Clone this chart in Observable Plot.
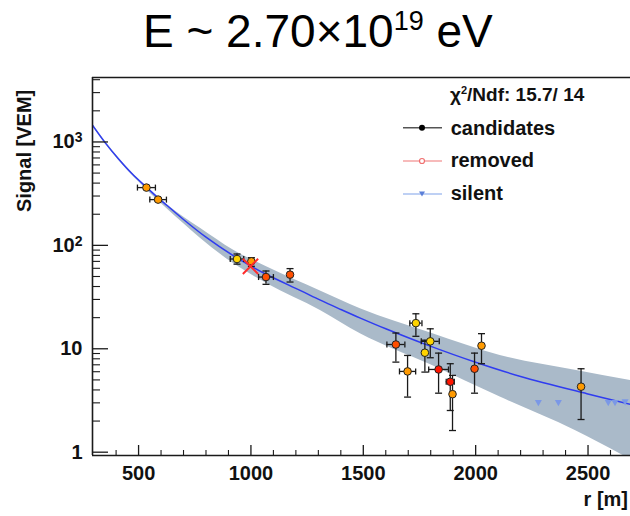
<!DOCTYPE html>
<html>
<head>
<meta charset="utf-8">
<script src="https://cdn.jsdelivr.net/npm/d3@7"></script>
<script src="https://cdn.jsdelivr.net/npm/@observablehq/plot@0.6"></script>
<style>
  html, body { margin: 0; padding: 0; background: white; }
  #wrap { position: relative; width: 630px; height: 516px; background: white; overflow: hidden; }
  #title { position: absolute; left: 143px; top: 8px; font: 46px/46px 'Liberation Sans', Arial, sans-serif; white-space: nowrap; color: #000; }
  #title .sup { font-size: 27px; vertical-align: 17px; line-height: 0; }
  #chart { position: absolute; left: 0; top: 60px; }
</style>
</head>
<body>
<div id="wrap">
  <div id="title">E ~ 2.70×10<span class="sup">19</span> eV</div>
  <div id="chart"></div>
</div>
<script>
// ---- fit curve ----
const fitR = [295, 350, 412, 470, 535, 587, 627, 700, 800, 923, 1000, 1072, 1221, 1309, 1400, 1487, 1600, 1783, 2000, 2200, 2495, 2689];
const fitS = [1450, 990, 680, 495, 365, 288, 243, 178, 120, 79, 63, 52, 36.5, 29.5, 24.0, 19.8, 15.6, 10.9, 7.4, 5.4, 3.68, 2.9];

// ---- uncertainty band ----
const bandR  = [295, 412, 553, 700, 775, 923, 1072, 1309, 1487, 1800, 2109, 2443, 2689];
const bandLo = [1420, 660, 318, 163, 117, 66.6, 42.6, 23.5, 14.0, 7.0, 3.41, 1.62, 0.85];
const bandHi = [1480, 700, 340, 188, 146, 89.5, 61.7, 36.3, 24.4, 14.2, 8.63, 6.2, 4.94];

// ---- candidate stations ----
const candR   = [535, 587, 938, 1002, 1067, 1174, 1645, 1697, 1734, 1774, 1798, 1835, 1887, 1897, 1995, 2026, 2469];
const candS   = [362, 277, 73.8, 70.1, 49.4, 52.1, 11.0, 6.04, 17.7, 9.16, 11.8, 6.31, 4.80, 3.64, 6.41, 10.7, 4.30];
const candLo  = [348, 266, 65.8, 62.7, 42.0, 44.2, 7.43, 3.41, 13.2, 5.95, 8.19, 3.72, 2.53, 1.62, 3.72, 7.17, 2.07];
const candHi  = [377, 288, 82.5, 76.1, 56.5, 59.6, 14.2, 8.62, 21.8, 12.1, 15.6, 9.08, 7.17, 5.53, 9.08, 14.0, 6.41];
const candDR  = [40, 37, 30, 0, 33, 0, 40, 36, 27, 0, 40, 44, 18, 0, 0, 0, 0];
const candCol = ["orange", "orange", "yellow", "orange", "redorange", "redorange", "redorange", "orange", "yellow", "yellow", "yellow", "red", "red", "orange", "redorange", "orange", "orange"];
const palette = {yellow: "#ffd400", orange: "#ff9a00", redorange: "#ff4f00", red: "#ff1500"};

// ---- removed station ----
const removedR = [998];
const removedS = [62.7];

// ---- silent stations ----
const silentR = [2279, 2368, 2590, 2620, 2665];
const silentS = [3.05, 3.05, 3.05, 3.05, 3.1];

// ---- axes ----
const xMajor = [500, 1000, 1500, 2000, 2500];
const xMinor = d3.range(400, 2700, 100).filter(v => v % 500 !== 0);
const yMajor = [1, 10, 100, 1000];
const yMinor = [1, 10, 100, 1000].flatMap(dec => [2, 3, 4, 5, 6, 7, 8, 9].map(m => m * dec)).filter(v => v <= 4000);
const yTickText = {1: "1", 10: "10", 100: "10^2", 1000: "10^3"};

const W = 630, H = 456;
const mL = 92, mR = 0, mT = 17, mB = 61;
const frameW = W - mL - mR, frameH = H - mT - mB;
const xDomain = [295, 2689];
const yDomain = [0.929, 4200];

const fit = fitR.map((r, i) => ({r, s: fitS[i]}));
const band = bandR.map((r, i) => ({r, lo: bandLo[i], hi: bandHi[i]}));
const cand = candR.map((r, i) => ({r, s: candS[i], lo: candLo[i], hi: candHi[i], dr: candDR[i], c: palette[candCol[i]]}));
const hbar = cand.filter(d => d.dr > 0);
const removed = removedR.map((r, i) => ({r, s: removedS[i]}));
const silent = silentR.map((r, i) => ({r, s: silentS[i]}));

const capH = {draw(ctx, size) { const h = Math.sqrt(size / Math.PI); ctx.moveTo(-h, 0); ctx.lineTo(h, 0); }};
const capV = {draw(ctx, size) { const h = Math.sqrt(size / Math.PI); ctx.moveTo(0, -h); ctx.lineTo(0, h); }};

const ink = "#1a1a1a";

const chart = Plot.plot({
  width: W, height: H,
  marginLeft: mL, marginRight: mR, marginTop: mT, marginBottom: mB,
  x: {type: "linear", domain: xDomain},
  y: {type: "log", domain: yDomain},
  color: {type: "identity"},
  style: {fontFamily: "'Liberation Sans', Arial, sans-serif", fontSize: "20px", fontWeight: "bold", background: "white", overflow: "visible", color: "#111"},
  marks: [
    Plot.areaY(band, {x: "r", y1: "lo", y2: "hi", fill: "#aabac9", curve: "monotone-x", clip: true}),
    Plot.line(fit, {x: "r", y: "s", stroke: "#2f3cf0", strokeWidth: 1.5, curve: "catmull-rom", clip: true}),
    // vertical error bars
    Plot.ruleX(cand, {x: "r", y1: "lo", y2: "hi", stroke: ink, strokeWidth: 1.3}),
    Plot.dot(cand, {x: "r", y: "lo", symbol: capH, r: 3.5, stroke: ink, strokeWidth: 1.3, fill: "none"}),
    Plot.dot(cand, {x: "r", y: "hi", symbol: capH, r: 3.5, stroke: ink, strokeWidth: 1.3, fill: "none"}),
    // horizontal error bars
    Plot.ruleY(hbar, {y: "s", x1: d => d.r - d.dr, x2: d => d.r + d.dr, stroke: ink, strokeWidth: 1.3}),
    Plot.dot(hbar, {x: d => d.r - d.dr, y: "s", symbol: capV, r: 3, stroke: ink, strokeWidth: 1.3, fill: "none"}),
    Plot.dot(hbar, {x: d => d.r + d.dr, y: "s", symbol: capV, r: 3, stroke: ink, strokeWidth: 1.3, fill: "none"}),
    // silent stations
    Plot.dot(silent, {x: "r", y: "s", symbol: "triangle", rotate: 180, r: 2.6, fill: "#7b98e6", stroke: "none"}),
    // candidate stations
    Plot.dot(cand, {x: "r", y: "s", r: 3.8, fill: "c", stroke: "#222", strokeWidth: 1}),
    // removed
    Plot.dot(removed, {x: "r", y: "s", symbol: "times", r: 7, stroke: "#ff2b2b", strokeWidth: 2}),
    // ticks (inside the frame)
    Plot.tickY(yMajor, {insetRight: frameW - 16, stroke: ink, strokeWidth: 1.3}),
    Plot.tickY(yMinor, {insetRight: frameW - 8, stroke: ink, strokeWidth: 1.1}),
    Plot.tickX(xMajor, {insetTop: frameH - 10, stroke: ink, strokeWidth: 1.3}),
    Plot.tickX(xMinor, {insetTop: frameH - 5, stroke: ink, strokeWidth: 1.1}),
    // frame lines
    Plot.ruleX([xDomain[0]], {stroke: ink, strokeWidth: 1.6}),
    Plot.ruleY([yDomain[0]], {stroke: ink, strokeWidth: 1.6}),
    Plot.ruleY([yDomain[1]], {stroke: ink, strokeWidth: 1.3}),
    // tick labels
    Plot.axisX({ticks: xMajor, tickSize: 0, tickPadding: 10, tickFormat: d => String(d), label: null}),
    Plot.axisY({ticks: yMajor, tickSize: 0, tickPadding: 10, tickFormat: d => yTickText[d], label: null})
  ]
});
document.getElementById("chart").appendChild(chart);

const svg = d3.select(chart);

// superscripts for y tick labels
svg.selectAll("text").each(function () {
  const t = this.textContent;
  if (t.includes("^")) {
    const [base, exp] = t.split("^");
    const sel = d3.select(this);
    sel.text(null);
    sel.append("tspan").text(base);
    sel.append("tspan").attr("dy", -6).attr("font-size", 14).text(exp);
  }
});

const g = svg.append("g")
  .attr("font-family", "'Liberation Sans', Arial, sans-serif")
  .attr("font-weight", "bold")
  .attr("font-size", 20)
  .attr("text-anchor", "start")
  .attr("fill", "#111");

// axis titles
g.append("text").attr("transform", "translate(31,152) rotate(-90)").attr("text-anchor", "start").text("Signal [VEM]");
g.append("text").attr("x", 628).attr("y", 446).attr("text-anchor", "end").text("r [m]");

// chi2 text
const chi = g.append("text").attr("x", 450).attr("y", 40.7).attr("text-anchor", "start").attr("font-size", 19);
chi.append("tspan").text("χ");
chi.append("tspan").attr("dy", -7).attr("font-size", 11).text("2");
chi.append("tspan").attr("dy", 7).text("/Ndf: 15.7/ 14");

// legend
const legendNames = ["candidates", "removed", "silent"];
const legendLine = ["#555555", "#f4a3a3", "#a9c0f0"];
const rowLineY = [67.7, 101, 134];
const rowTextY = [75, 107.3, 140];
legendNames.forEach((name, i) => {
  g.append("line").attr("x1", 403).attr("x2", 442).attr("y1", rowLineY[i]).attr("y2", rowLineY[i])
    .attr("stroke", legendLine[i]).attr("stroke-width", 1.5);
  if (i === 0) {
    g.append("circle").attr("cx", 422).attr("cy", rowLineY[i]).attr("r", 3).attr("fill", "#000");
  } else if (i === 1) {
    g.append("circle").attr("cx", 422).attr("cy", rowLineY[i]).attr("r", 2.5).attr("fill", "white").attr("stroke", "#f07070").attr("stroke-width", 1.2);
  } else {
    g.append("path").attr("transform", `translate(422,${rowLineY[i]})`).attr("d", "M-3,-2.5L3,-2.5L0,2.5Z").attr("fill", "#5b7fd8");
  }
  g.append("text").attr("x", 450.7).attr("y", rowTextY[i]).attr("text-anchor", "start").text(name);
});
</script>
</body>
</html>
